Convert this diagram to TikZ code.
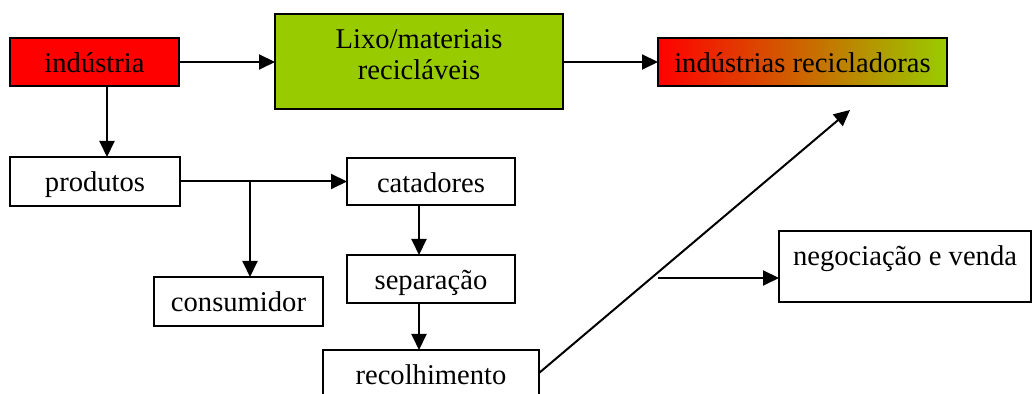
\documentclass[tikz,border=0pt]{standalone}
\usepackage{fontspec}
\setmainfont{Liberation Serif}
\usetikzlibrary{arrows.meta,calc}
\definecolor{lgreen}{RGB}{153,204,0}
\begin{document}
\begin{tikzpicture}[x=0.5pt,y=-0.5pt,
  box/.style={draw=black,line width=1pt,inner sep=0pt,outer sep=0pt,rectangle},
  txt/.style={font=\fontsize{14.3}{15.5}\selectfont,inner sep=0pt,align=center,anchor=base},
  arr/.style={line width=1pt,-{Triangle[length=8pt,width=7.5pt]}},
  ln/.style={line width=1pt}]
\useasboundingbox (0,0) rectangle (1032,394);
% boxes
\node[box,fill=red,minimum width=84.5pt,minimum height=24pt] (ind) at (94.5,62) {};
\node[txt] (indt) at ([yshift=-17.5pt]ind.north) {indústria};
\node[box,fill=lgreen,minimum width=144pt,minimum height=47.5pt] (lixo) at (419,61.5) {};
\node[txt] (lixot) at ([yshift=-33pt]lixo.north) {Lixo/materiais\\recicláveis};
\node[box,left color=red,right color=lgreen,minimum width=144.5pt,minimum height=24pt] (rind) at (802.5,62) {};
\node[txt] (rindt) at ([yshift=-17.5pt]rind.north) {indústrias recicladoras};
\node[box,minimum width=85pt,minimum height=24.5pt] (prod) at (95,181.5) {};
\node[txt] (prodt) at ([yshift=-17.5pt]prod.north) {produtos};
\node[box,minimum width=84.5pt,minimum height=24.5pt] (cons) at (238.5,301.5) {};
\node[txt] (const) at ([yshift=-17.5pt]cons.north) {consumidor};
\node[box,minimum width=84pt,minimum height=23.5pt] (cat) at (431,181.5) {};
\node[txt] (catt) at ([yshift=-17.5pt]cat.north) {catadores};
\node[box,minimum width=84pt,minimum height=24pt] (sep) at (431,279) {};
\node[txt] (sept) at ([yshift=-17.5pt]sep.north) {separação};
\node[box,minimum width=108pt,minimum height=35pt] (rec) at (431,385) {};
\node[txt] (rect) at ([yshift=-17.5pt]rec.north) {recolhimento};
\node[box,minimum width=126pt,minimum height=35.5pt] (neg) at (905,266.5) {};
\node[txt] (negt) at ([yshift=-17.5pt]neg.north) {negociação e venda};
% coordinates
\coordinate (indd) at (107,86);
\coordinate (br) at (250,182);
\coordinate (catd) at (419,205);
\coordinate (sepd) at (419,303);
\coordinate (recs) at (539,373);
\coordinate (tip) at (850,110);
\coordinate (ns) at (658,278);
% connectors
\draw[arr] (ind.east) -- (ind.east -| lixo.west);
\draw[arr] (lixo.east |- rind.west) -- (rind.west);
\draw[arr] (indd) -- (indd |- prod.north);
\draw[arr] (prod.east) -- (cat.west);
\draw[arr] (br) -- (br |- cons.north);
\draw[arr] (catd) -- (catd |- sep.north);
\draw[arr] (sepd) -- (sepd |- rec.north);
\draw[arr] (recs) -- (tip);
\draw[arr] (ns) -- (ns -| neg.west);
\end{tikzpicture}
\end{document}
